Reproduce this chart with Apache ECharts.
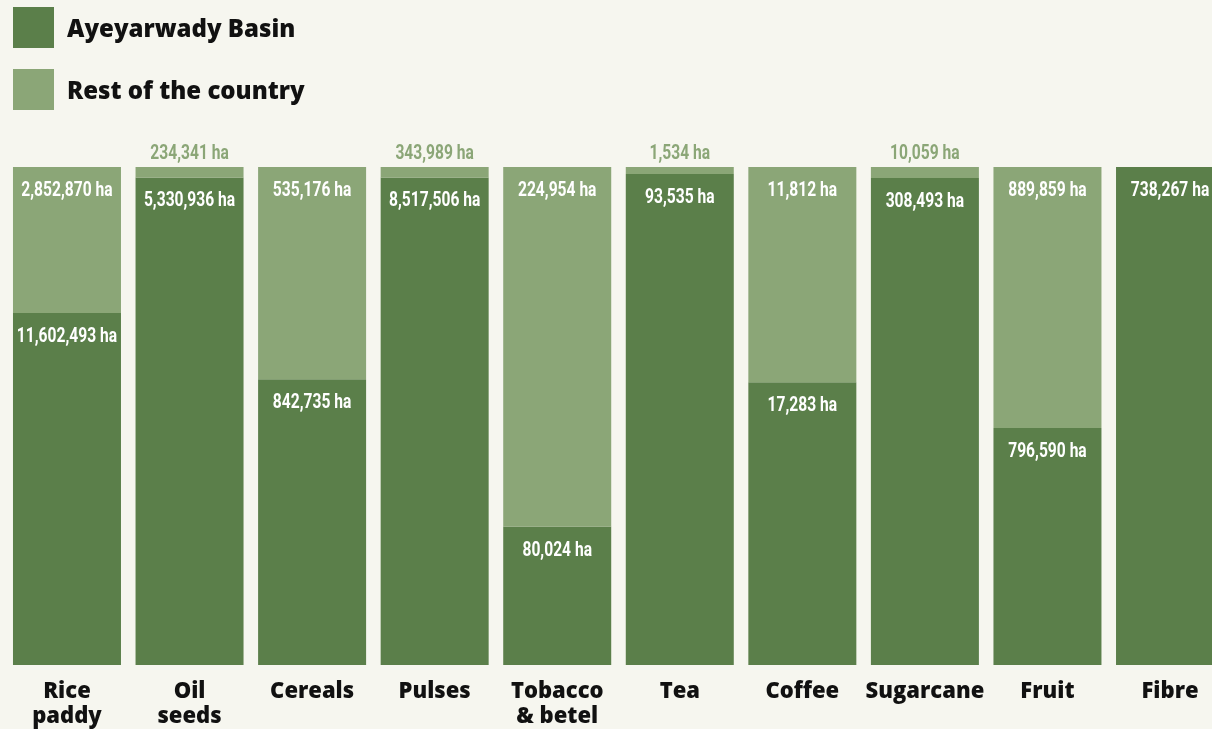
<!DOCTYPE html>
<html><head><meta charset="utf-8">
<script src="https://cdn.jsdelivr.net/npm/echarts@6/dist/echarts.min.js"></script>
<style>
html,body{margin:0;padding:0;background:#f6f6ef;}#c{width:1212px;height:729px;}
</style>
</head><body><div id="c"></div>
<script>
// Categories (x axis)
const categories = ['Rice\npaddy','Oil\nseeds','Cereals','Pulses','Tobacco\n& betel','Tea','Coffee','Sugarcane','Fruit','Fibre'];
// Hectares shown in the labels
const basinHa = [11602493, 5330936, 842735, 8517506, 80024, 93535, 17283, 308493, 796590, 738267];
const restHa  = [2852870, 234341, 535176, 343989, 224954, 1534, 11812, 10059, 889859, 0];
// Drawn share of each bar (percent) belonging to the Ayeyarwady Basin
const basinShare = [70.7, 97.9, 57.4, 97.9, 27.8, 98.6, 56.8, 97.8, 47.6, 100];
const restShare = basinShare.map(v => +(100 - v).toFixed(1));

const DARK = '#5b7f4a', LIGHT = '#8ba677', BG = '#f6f6ef';
const fmt = v => v.toLocaleString('en-US') + ' ha';

// label items placed through the cartesian scale
const labelItems = [];
basinShare.forEach((v, i) => {
  labelItems.push({ value: [i, v], text: fmt(basinHa[i]), color: '#fff', above: false });
  if (restHa[i] > 0) {
    const small = restShare[i] < 5;
    labelItems.push({ value: [i, 100], text: fmt(restHa[i]), color: small ? LIGHT : '#fff', above: small });
  }
});

const chart = echarts.init(document.getElementById('c'));
chart.setOption({
  backgroundColor: BG,
  animation: false,
  legend: {
    orient: 'vertical', left: 13, top: 7, padding: 0, itemWidth: 41, itemHeight: 41, itemGap: 21,
    icon: 'rect',
    formatter: name => '{t|' + name + '}',
    textStyle: {
      fontFamily: "'Open Sans', sans-serif", fontWeight: 800, fontSize: 24, color: '#111', padding: [0, 0, 0, 8],
      rich: { t: { fontFamily: "'Open Sans', sans-serif", fontWeight: 800, fontSize: 24, color: '#111', padding: [6, 0, 0, 0] } }
    },
    data: ['Ayeyarwady Basin', 'Rest of the country']
  },
  grid: { left: 5.7, width: 1225.6, top: 167, bottom: 64, outerBoundsMode: 'none', containLabel: false },
  xAxis: {
    type: 'category', data: categories,
    axisLine: { show: false }, axisTick: { show: false },
    axisLabel: { interval: 0, margin: 14, fontFamily: "'Open Sans', sans-serif", fontWeight: 800, fontSize: 22, lineHeight: 25, color: '#111' }
  },
  yAxis: { type: 'value', min: 0, max: 100, show: false },
  series: [
    {
      name: 'Ayeyarwady Basin', type: 'bar', stack: 'total', barWidth: 108,
      itemStyle: { color: DARK },
      data: basinShare
    },
    {
      name: 'Rest of the country', type: 'bar', stack: 'total', barWidth: 108,
      itemStyle: { color: LIGHT },
      data: restShare
    },
    {
      type: 'custom', silent: true, clip: false, z: 10,
      data: labelItems.map(d => d.value),
      renderItem: (params, api) => {
        const d = labelItems[params.dataIndex];
        const pt = api.coord([api.value(0), api.value(1)]);
        return {
          type: 'text', x: pt[0], y: d.above ? pt[1] - 3 : pt[1] + 14, scaleX: 0.78,
          style: {
            text: d.text, fill: d.color, align: 'center', verticalAlign: d.above ? 'bottom' : 'top',
            font: "bold 20px Roboto, 'Liberation Sans', sans-serif"
          }
        };
      }
    }
  ]
});
</script>
</body></html>
